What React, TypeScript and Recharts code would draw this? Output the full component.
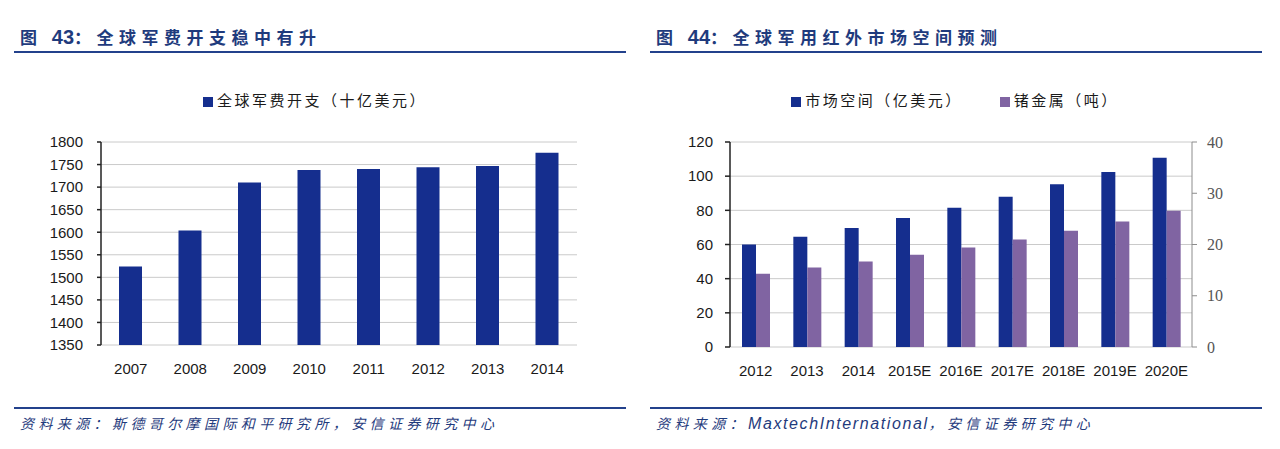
import React from "react";
import { BarChart, Bar, XAxis, YAxis, CartesianGrid, Legend } from "recharts";

// 图43 全球军费开支
const spendYears = ["2007", "2008", "2009", "2010", "2011", "2012", "2013", "2014"];
const spendValues = [1524, 1604, 1710, 1738, 1740, 1744, 1747, 1776];
const spendTicks = [1350, 1400, 1450, 1500, 1550, 1600, 1650, 1700, 1750, 1800];

// 图44 全球军用红外市场空间
const marketYears = ["2012", "2013", "2014", "2015E", "2016E", "2017E", "2018E", "2019E", "2020E"];
const marketValues = [60, 64.6, 69.7, 75.5, 81.5, 88, 95.3, 102.5, 110.8];
const germaniumTons = [14.3, 15.5, 16.7, 18, 19.4, 21, 22.7, 24.5, 26.6];
const marketTicks = [0, 20, 40, 60, 80, 100, 120];
const germaniumTicks = [0, 10, 20, 30, 40];

const BLUE = "#152e8e";
const PURPLE = "#8064a2";
const INK = "#1f3b7d";
const CJK = "'Noto Sans CJK SC', 'Noto Sans', sans-serif";

const spendData = spendYears.map((year, i) => ({ year, spend: spendValues[i] }));
const marketData = marketYears.map((year, i) => ({ year, market: marketValues[i], ge: germaniumTons[i] }));

const tickFont = { fontSize: 15, fill: "#1a1a1a", fontFamily: "'Liberation Sans', Arial, sans-serif" };

function Header({ num, text, left }: { num: string; text: string; left: number }) {
  return (
    <>
      <div
        style={{
          position: "absolute",
          left: left + 6,
          top: 26,
          color: INK,
          fontFamily: CJK,
          fontWeight: 700,
          fontSize: 17,
          letterSpacing: 5.5,
          whiteSpace: "nowrap",
          lineHeight: "22px",
        }}
      >
        图 <span style={{ fontFamily: "'Liberation Sans', Arial", fontSize: 20, letterSpacing: 0 }}>{num}</span>：{text}
      </div>
      <div style={{ position: "absolute", left, top: 51, width: 612, height: 2, background: "#23418c" }} />
    </>
  );
}

function Footer({ left, children }: { left: number; children: React.ReactNode }) {
  return (
    <>
      <div style={{ position: "absolute", left, top: 407, width: 612, height: 2, background: "#23418c" }} />
      <div
        style={{
          position: "absolute",
          left: left + 6,
          top: 413,
          color: INK,
          fontFamily: CJK,
          fontStyle: "italic",
          fontSize: 14,
          letterSpacing: 4.4,
          whiteSpace: "nowrap",
          lineHeight: "20px",
        }}
      >
        {children}
      </div>
    </>
  );
}

const legendText = (gapAfterFirst: number) => (value: string, _entry: any, index: number) => (
  <span
    style={{
      color: "#1a1a1a",
      fontFamily: CJK,
      fontSize: 15,
      letterSpacing: 2.5,
      marginRight: index === 0 ? gapAfterFirst : 0,
    }}
  >
    {value}
  </span>
);

function SpendChart() {
  const edges = spendYears.map((_, i) => i).concat(spendYears.length);
  return (
    <div style={{ position: "absolute", left: 0, top: 89 }}>
      <BarChart width={640} height={300} data={spendData} margin={{ top: 32, right: 63, left: 0, bottom: 14 }}>
        <Legend
          verticalAlign="top"
          iconSize={10}
          wrapperStyle={{ top: 0, left: 0, width: 640 }}
          formatter={legendText(0)}
        />
        <CartesianGrid horizontal vertical={false} stroke="#cacaca" />
        <XAxis
          xAxisId="edge"
          type="number"
          domain={[0, spendYears.length]}
          ticks={edges}
          tick={false}
          height={0}
          tickSize={6}
          stroke="#222"
          strokeWidth={1.5}
        />
        <XAxis
          xAxisId="cat"
          dataKey="year"
          height={30}
          axisLine={false}
          tickLine={false}
          tickSize={6}
          tickMargin={12}
          tick={tickFont}
          interval={0}
        />
        <YAxis
          width={101}
          domain={[1350, 1800]}
          ticks={spendTicks}
          interval={0}
          allowDataOverflow
          tickSize={4}
          tickMargin={14}
          stroke="#222"
          strokeWidth={1.5}
          tick={tickFont}
        />
        <Bar
          xAxisId="cat"
          dataKey="spend"
          name="全球军费开支（十亿美元）"
          fill={BLUE}
          barSize={23}
          legendType="square"
          isAnimationActive={false}
        />
      </BarChart>
    </div>
  );
}

function MarketChart() {
  const edges = marketYears.map((_, i) => i).concat(marketYears.length);
  return (
    <div style={{ position: "absolute", left: 640, top: 89 }}>
      <BarChart
        width={640}
        height={300}
        data={marketData}
        margin={{ top: 32, right: 0, left: 0, bottom: 12 }}
        barGap={0}
      >
        <Legend
          verticalAlign="top"
          iconSize={10}
          wrapperStyle={{ top: 0, left: 0, width: 640 }}
          formatter={legendText(27)}
        />
        <CartesianGrid horizontal vertical={false} stroke="#cacaca" yAxisId="left" />
        <XAxis
          xAxisId="edge"
          type="number"
          domain={[0, marketYears.length]}
          ticks={edges}
          tick={false}
          height={0}
          tickSize={6}
          stroke="#222"
          strokeWidth={1.5}
        />
        <XAxis
          xAxisId="cat"
          dataKey="year"
          height={30}
          axisLine={false}
          tickLine={false}
          tickSize={6}
          tickMargin={12}
          tick={tickFont}
          interval={0}
        />
        <YAxis
          yAxisId="left"
          width={90}
          domain={[0, 120]}
          ticks={marketTicks}
          interval={0}
          tickSize={5}
          tickMargin={12}
          stroke="#222"
          strokeWidth={1.5}
          tick={tickFont}
        />
        <YAxis
          yAxisId="right"
          orientation="right"
          width={88}
          domain={[0, 40]}
          ticks={germaniumTicks}
          interval={0}
          tickSize={5}
          tickMargin={10}
          stroke="#8c8c8c"
          tick={{ fontSize: 16, fill: "#555", fontFamily: "'Liberation Serif', 'DejaVu Serif', serif" }}
        />
        <Bar
          xAxisId="cat"
          yAxisId="left"
          dataKey="market"
          name="市场空间（亿美元）"
          fill={BLUE}
          barSize={14}
          legendType="square"
          isAnimationActive={false}
        />
        <Bar
          xAxisId="cat"
          yAxisId="right"
          dataKey="ge"
          name="锗金属（吨）"
          fill={PURPLE}
          barSize={14}
          legendType="square"
          isAnimationActive={false}
        />
      </BarChart>
    </div>
  );
}

export default function App() {
  return (
    <div style={{ position: "absolute", left: 0, top: 0, width: 1280, height: 449, background: "#fff", overflow: "hidden" }}>
      <Header num="43" text="全球军费开支稳中有升" left={14} />
      <Header num="44" text="全球军用红外市场空间预测" left={650} />
      <SpendChart />
      <MarketChart />
      <Footer left={14}>资料来源：斯德哥尔摩国际和平研究所，安信证券研究中心</Footer>
      <Footer left={650}>
        资料来源：
        <span style={{ fontFamily: "'Liberation Sans', Arial", fontSize: 16, letterSpacing: 1.6 }}>MaxtechInternational</span>
        ，安信证券研究中心
      </Footer>
    </div>
  );
}
